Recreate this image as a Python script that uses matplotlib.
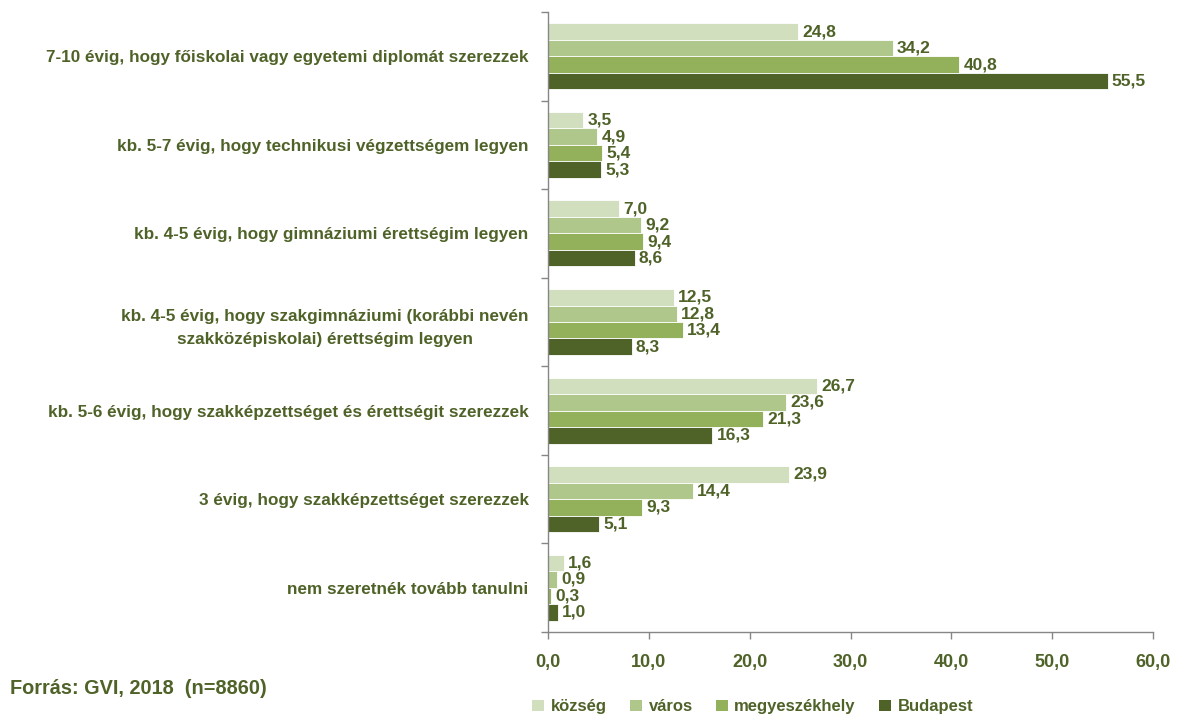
import numpy as np
import matplotlib
matplotlib.use('Agg')
import matplotlib.pyplot as plt
from matplotlib.patches import Patch

categories = [
    '7-10 évig, hogy főiskolai vagy egyetemi diplomát szerezzek',
    'kb. 5-7 évig, hogy technikusi végzettségem legyen',
    'kb. 4-5 évig, hogy gimnáziumi érettségim legyen',
    'kb. 4-5 évig, hogy szakgimnáziumi (korábbi nevén\nszakközépiskolai) érettségim legyen',
    'kb. 5-6 évig, hogy szakképzettséget és érettségit szerezzek',
    '3 évig, hogy szakképzettséget szerezzek',
    'nem szeretnék tovább tanulni',
]
series = ['község', 'város', 'megyeszékhely', 'Budapest']
kozseg = [24.8, 3.5, 7.0, 12.5, 26.7, 23.9, 1.6]
varos = [34.2, 4.9, 9.2, 12.8, 23.6, 14.4, 0.9]
megyeszekhely = [40.8, 5.4, 9.4, 13.4, 21.3, 9.3, 0.3]
budapest = [55.5, 5.3, 8.6, 8.3, 16.3, 5.1, 1.0]
xticks = [0, 10, 20, 30, 40, 50, 60]

colors = ['#D2DFBE', '#AFC78A', '#93B05A', '#4F6228']
text_col = '#4F6228'
lab_font = 'Liberation Sans'

fig = plt.figure(figsize=(11.78, 7.17), dpi=100)
ax = fig.add_axes([548 / 1178, 1 - 632 / 717, 605 / 1178, 620 / 717])

n = len(categories)
centers = np.arange(n)
h = 0.186
values = [kozseg, varos, megyeszekhely, budapest]
for k, (vals, col) in enumerate(zip(values, colors)):
    y = centers + (k - 1.5) * h
    ax.barh(y, vals, height=h, color=col, edgecolor='white', linewidth=0.6)
    for yy, v in zip(y, vals):
        ax.annotate(f'{v:.1f}'.replace('.', ','), (v, yy), xytext=(3, 0),
                    textcoords='offset points', va='center', ha='left',
                    fontsize=12.5, fontweight='bold', color=text_col,
                    family=lab_font)

ax.set_xlim(0, 60)
ax.set_ylim(n - 0.5, -0.5)
ax.set_xticks(xticks)
ax.set_xticklabels([f'{t:.1f}'.replace('.', ',') for t in xticks],
                   fontsize=13, fontweight='bold', color=text_col,
                   family=lab_font)
ax.tick_params(axis='x', length=5, width=1, color='#868686', pad=11)

ax.set_yticks(centers)
ax.set_yticklabels(categories, fontsize=12.3, fontweight='bold',
                   color=text_col, family=lab_font, ha='right',
                   multialignment='center', linespacing=1.7)
ax.tick_params(axis='y', which='major', length=0, pad=14)
ax.set_yticks(np.arange(-0.5, n, 1), minor=True)
ax.tick_params(axis='y', which='minor', length=5, width=1, color='#868686')

for s in ['top', 'right']:
    ax.spines[s].set_visible(False)
for s in ['left', 'bottom']:
    ax.spines[s].set_color('#868686')
    ax.spines[s].set_linewidth(1)

handles = [Patch(facecolor=c, edgecolor='none') for c in colors]
leg = fig.legend(handles, series, loc='center', bbox_to_anchor=(0.639, 0.014),
                 ncol=4, frameon=False, handlelength=0.7, handleheight=0.7,
                 handletextpad=0.4, columnspacing=1.4,
                 prop={'family': lab_font, 'weight': 'bold', 'size': 12})
for t in leg.get_texts():
    t.set_color(text_col)

fig.text(10 / 1178, 1 - 688 / 717, 'Forrás: GVI, 2018  (n=8860)', fontsize=14.3,
         fontweight='bold', color=text_col, family=lab_font,
         va='center', ha='left')

fig.savefig('out.png', dpi=100)
